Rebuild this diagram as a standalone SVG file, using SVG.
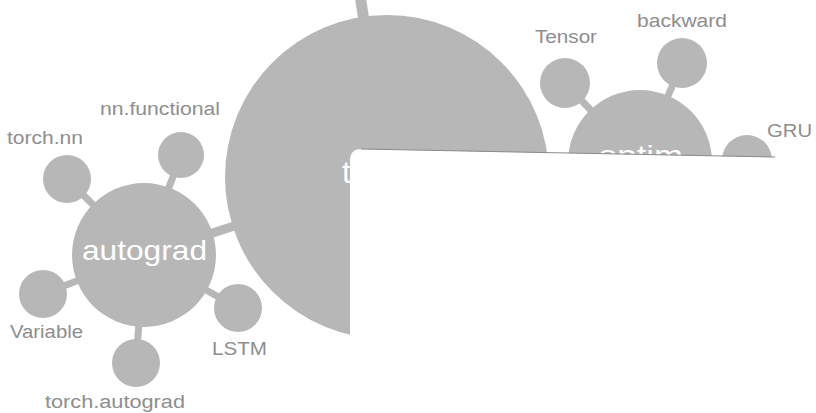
<svg xmlns="http://www.w3.org/2000/svg" width="816" height="413" viewBox="0 0 816 413">
  <defs>
    <style>
      .node { fill: #b7b7b7; }
      .edge { stroke: #b7b7b7; stroke-linecap: butt; fill: none; }
      .lbl { font-family: "Liberation Sans", Arial, sans-serif; font-size: 18px; fill: #8e8e8e; }
      .big { font-family: "Liberation Sans", Arial, sans-serif; fill: #ffffff; }
    </style>
  </defs>
  <rect x="0" y="0" width="816" height="413" fill="#ffffff"/>

  <g id="connectors">
    <line class="edge" x1="360" y1="-5" x2="367" y2="40" stroke-width="11"/>
    <line class="edge" x1="144" y1="255" x2="387" y2="177" stroke-width="9"/>
    <line class="edge" x1="144" y1="255" x2="67" y2="179" stroke-width="7"/>
    <line class="edge" x1="144" y1="255" x2="181" y2="155" stroke-width="7"/>
    <line class="edge" x1="144" y1="255" x2="43" y2="294" stroke-width="7"/>
    <line class="edge" x1="144" y1="255" x2="136" y2="363" stroke-width="7"/>
    <line class="edge" x1="144" y1="255" x2="238" y2="308" stroke-width="7"/>
    <line class="edge" x1="640" y1="162" x2="565" y2="83" stroke-width="7"/>
    <line class="edge" x1="640" y1="162" x2="682" y2="63" stroke-width="7"/>
  </g>

  <g id="torch">
    <circle class="node" cx="387" cy="177" r="162"/>
    <text class="big" x="342" y="183" font-size="32">t</text>
  </g>

  <g id="autograd">
    <circle class="node" cx="144" cy="255" r="72"/>
    <text class="big" x="82" y="260" font-size="28" textLength="125" lengthAdjust="spacingAndGlyphs">autograd</text>
  </g>

  <g id="torch-nn">
    <circle class="node" cx="67" cy="179" r="24"/>
    <text class="lbl" x="7" y="144" textLength="76" lengthAdjust="spacingAndGlyphs">torch.nn</text>
  </g>

  <g id="nn-functional">
    <circle class="node" cx="181" cy="155" r="23"/>
    <text class="lbl" x="100" y="115" textLength="120" lengthAdjust="spacingAndGlyphs">nn.functional</text>
  </g>

  <g id="variable">
    <circle class="node" cx="43" cy="294" r="24"/>
    <text class="lbl" x="10" y="338" textLength="73" lengthAdjust="spacingAndGlyphs">Variable</text>
  </g>

  <g id="torch-autograd">
    <circle class="node" cx="136" cy="363" r="24"/>
    <text class="lbl" x="45" y="408" textLength="140" lengthAdjust="spacingAndGlyphs">torch.autograd</text>
  </g>

  <g id="lstm">
    <circle class="node" cx="238" cy="308" r="24"/>
    <text class="lbl" x="212" y="355" textLength="55" lengthAdjust="spacingAndGlyphs">LSTM</text>
  </g>

  <g id="optim">
    <circle class="node" cx="640" cy="162" r="72"/>
    <text class="big" x="598" y="165" font-size="28" textLength="85" lengthAdjust="spacingAndGlyphs">optim</text>
  </g>

  <g id="tensor">
    <circle class="node" cx="565" cy="83" r="25"/>
    <text class="lbl" x="535" y="43" textLength="62" lengthAdjust="spacingAndGlyphs">Tensor</text>
  </g>

  <g id="backward">
    <circle class="node" cx="682" cy="63" r="25"/>
    <text class="lbl" x="637" y="27" textLength="90" lengthAdjust="spacingAndGlyphs">backward</text>
  </g>

  <g id="gru">
    <circle class="node" cx="747" cy="160" r="25"/>
    <text class="lbl" x="767" y="137" textLength="45" lengthAdjust="spacingAndGlyphs">GRU</text>
  </g>

  <g id="overlay">
    <path d="M350,161 Q350,149 361,149 L816,158 L816,413 L350,413 Z" fill="#ffffff"/>
    <line x1="361" y1="149" x2="775" y2="157" stroke="#8a8a8a" stroke-width="1"/>
  </g>
</svg>
